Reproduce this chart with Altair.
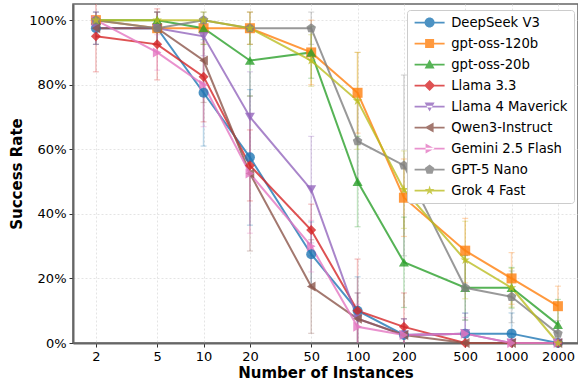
import altair as alt
import pandas as pd

instances = [2, 5, 10, 20, 50, 100, 200, 500, 1000, 2000]
models = ["DeepSeek V3", "gpt-oss-120b", "gpt-oss-20b", "Llama 3.3", "Llama 4 Maverick",
          "Qwen3-Instruct", "Gemini 2.5 Flash", "GPT-5 Nano", "Grok 4 Fast"]
colors = ["#1f77b4", "#ff7f0e", "#2ca02c", "#d62728", "#9467bd",
          "#8c564b", "#e377c2", "#7f7f7f", "#bcbd22"]

deepseek_v3 = [97.5, 97.5, 77.5, 57.5, 27.5, 10, 2.5, 2.9, 2.9, 0]
gpt_oss_120b = [100, 97.5, 97.5, 97.5, 90, 77.5, 45, 28.6, 20, 11.4]
gpt_oss_20b = [100, 100, 97.5, 87.5, 90, 50, 25, 17.1, 17.1, 5.7]
llama_33 = [95, 92.5, 82.5, 55, 35, 10, 5, 0, 0, 0]
llama4_maverick = [97.5, 97.5, 95, 70, 47.5, 7.5, 2.5, 2.9, 0, 0]
qwen3_instruct = [97.5, 97.5, 87.5, 52.5, 17.5, 7.5, 2.5, 0, 0, 0]
gemini_25_flash = [100, 90, 80, 52.5, 30, 5, 2.5, 2.9, 0, 0]
gpt5_nano = [100, 97.5, 100, 97.5, 97.5, 62.5, 55, 17.1, 14.3, 2.9]
grok4_fast = [100, 100, 100, 97.5, 87.5, 75, 47.5, 25.7, 17.1, 0]

deepseek_v3_err = [5, 5, 16.5, 21, 10, 10.5, 5, 6.4, 6.4, 0]
gpt_oss_120b_err = [0, 5, 5, 5, 10, 12.5, 12, 10, 8, 6.2]
gpt_oss_20b_err = [0, 0, 5, 11, 8, 14, 14, 10, 6.3, 7.8]
llama_33_err = [11, 11, 14, 11, 8, 16, 10.5, 0, 0, 0]
llama4_maverick_err = [5, 5, 6, 14, 16.5, 8, 5, 6.3, 0, 0]
qwen3_instruct_err = [5, 5, 13, 24, 14.5, 8, 5, 0, 0, 0]
gemini_25_flash_err = [0, 5.5, 13, 18.5, 8, 7, 5, 5, 0, 0]
gpt5_nano_err = [0, 5, 0, 5, 5, 13, 28, 10, 8, 4]
grok4_fast_err = [0, 0, 0, 5, 8, 15, 12, 12, 6, 0]

series = [deepseek_v3, gpt_oss_120b, gpt_oss_20b, llama_33, llama4_maverick,
          qwen3_instruct, gemini_25_flash, gpt5_nano, grok4_fast]
errors = [deepseek_v3_err, gpt_oss_120b_err, gpt_oss_20b_err, llama_33_err, llama4_maverick_err,
          qwen3_instruct_err, gemini_25_flash_err, gpt5_nano_err, grok4_fast_err]

PENT = "M0,-1 L0.951,-0.309 L0.588,0.809 L-0.588,0.809 L-0.951,-0.309 Z"
STAR = ("M0,-1 L0.2245,-0.309 L0.951,-0.309 L0.363,0.118 L0.588,0.809 "
        "L0,0.382 L-0.588,0.809 L-0.363,0.118 L-0.951,-0.309 L-0.2245,-0.309 Z")
shapes = ["circle", "square", "triangle-up", "diamond", "triangle-down",
          "triangle-left", "triangle-right", PENT, STAR]

LINE = " M-3,-0.16 L3,-0.16 L3,0.16 L-3,0.16 Z"
legend_shapes = [
    "M1,0 A1,1 0 1,1 -1,0 A1,1 0 1,1 1,0 Z" + LINE,
    "M-0.9,-0.9 L0.9,-0.9 L0.9,0.9 L-0.9,0.9 Z" + LINE,
    "M0,-1 L1,0.8 L-1,0.8 Z" + LINE,
    "M0,-1.1 L1.1,0 L0,1.1 L-1.1,0 Z" + LINE,
    "M0,1 L1,-0.8 L-1,-0.8 Z" + LINE,
    "M-1,0 L0.8,-1 L0.8,1 Z" + LINE,
    "M1,0 L-0.8,-1 L-0.8,1 Z" + LINE,
    PENT + LINE,
    STAR + LINE,
]

rows = []
for i, (m, vals, errs) in enumerate(zip(models, series, errors)):
    for n, v, e in zip(instances, vals, errs):
        rows.append({"model": m, "Model": m, "idx": i, "n": n, "rate": v,
                     "lo": v - e, "hi": v + e})
df = pd.DataFrame(rows)

FONT = "DejaVu Sans"
xenc = alt.X("n:Q",
             scale=alt.Scale(type="log", domain=[1.42, 2700], nice=False),
             axis=alt.Axis(values=instances, format="d", title="Number of Instances"))
yenc = alt.Y("rate:Q",
             scale=alt.Scale(domain=[0, 105], nice=False),
             axis=alt.Axis(values=[0, 20, 40, 60, 80, 100], labelExpr="datum.value + '%'",
                           title="Success Rate"))
cscale = alt.Scale(domain=models, range=colors)
color_nl = alt.Color("model:N", scale=cscale, legend=None)

base = alt.Chart(df)

err_rules = base.mark_rule(opacity=0.3, strokeWidth=1.5, clip=True).encode(
    x=xenc, y=alt.Y("lo:Q"), y2="hi:Q", color=color_nl)
cap_lo = base.mark_tick(orient="horizontal", size=6, thickness=1.2, opacity=0.3, clip=True).encode(
    x=xenc, y=alt.Y("lo:Q"), color=color_nl)
cap_hi = base.mark_tick(orient="horizontal", size=6, thickness=1.2, opacity=0.3, clip=True).encode(
    x=xenc, y=alt.Y("hi:Q"), color=color_nl)
lines = base.mark_line(strokeWidth=2, opacity=0.8).encode(
    x=xenc, y=yenc, color=color_nl, detail="model:N", order="n:Q")
points = base.mark_point(filled=True, size=100, opacity=0.8).encode(
    x=xenc, y=yenc, color=color_nl,
    shape=alt.Shape("model:N", scale=alt.Scale(domain=models, range=shapes), legend=None))

legend_layer = base.transform_filter("datum.n < 0").mark_point(filled=True, opacity=0.8).encode(
    x=xenc, y=yenc,
    color=alt.Color("Model:N", scale=alt.Scale(domain=models, range=colors),
                    legend=alt.Legend(orient="none", legendX=334, legendY=6, title=None,
                                      fillColor="white", strokeColor="#cccccc", cornerRadius=3,
                                      padding=6, labelFontSize=13.2, labelFont=FONT,
                                      labelColor="black", symbolSize=100, rowPadding=7,
                                      symbolOffset=10, labelOffset=15, labelLimit=200)),
    shape=alt.Shape("Model:N", scale=alt.Scale(domain=models, range=legend_shapes)))

chart = alt.layer(err_rules, cap_lo, cap_hi, lines, points, legend_layer).resolve_scale(
    color="independent", shape="independent"
).properties(
    width=505, height=339,
    autosize=alt.AutoSizeParams(type="none"),
    padding={"left": 73, "top": 4, "right": 0, "bottom": 42},
).configure_view(
    stroke="#666666", strokeWidth=1.5
).configure_axis(
    labelFont=FONT, titleFont=FONT, labelFontSize=13, titleFontSize=15,
    titleFontWeight="bold", labelColor="black", titleColor="black",
    grid=True, gridColor="#dddddd", gridDash=[2, 2], gridWidth=0.8,
    domainColor="#666666", domainWidth=2, tickColor="#333333", tickSize=4,
    labelPadding=3
).configure_axisX(titlePadding=2).configure_axisY(titlePadding=4)

chart.save("out.html", embed_options={"renderer": "svg", "actions": False})
